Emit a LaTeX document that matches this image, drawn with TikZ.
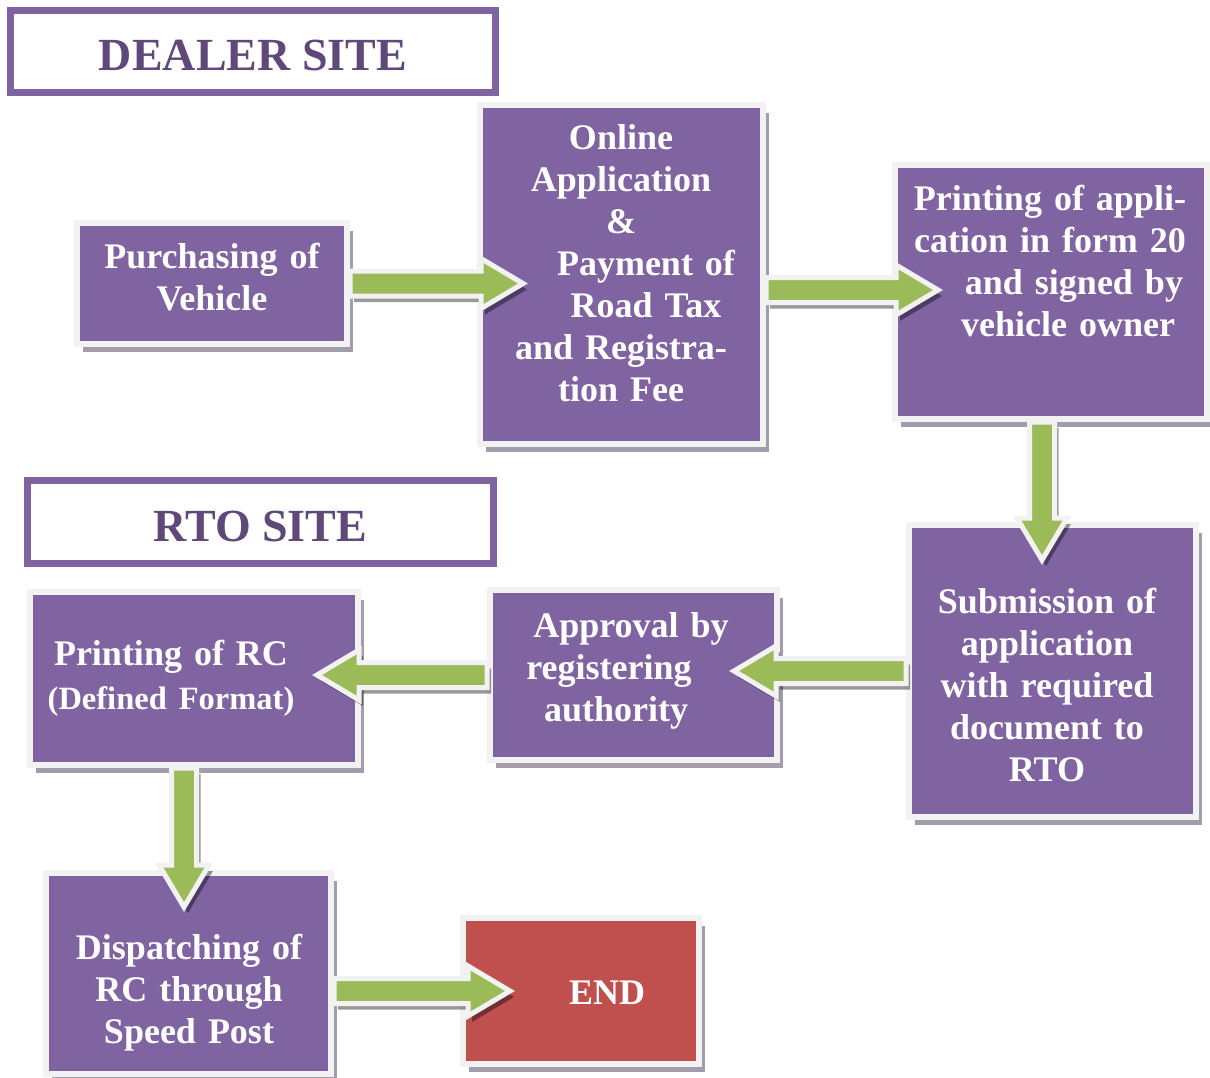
\documentclass[tikz,border=0pt]{standalone}
\usepackage{fontspec}
\setmainfont{Liberation Serif}
\usetikzlibrary{calc,shadows}
\definecolor{boxpurple}{HTML}{8064A2}
\definecolor{boxborder}{HTML}{F2F2F2}
\definecolor{agreen}{HTML}{9BBB59}
\definecolor{endred}{HTML}{C0504D}
\definecolor{hdrtext}{HTML}{5F497A}
\definecolor{hdrline}{HTML}{8064A2}
\definecolor{shadowgray}{HTML}{A29DAA}
\begin{document}
\begin{tikzpicture}[x=1pt,y=-1pt,
  box/.style={rectangle, fill=boxpurple, draw=boxborder, line width=6pt, inner sep=0pt,
    drop shadow={shadow xshift=6pt, shadow yshift=-8pt, fill=shadowgray, opacity=1}},
  hdr/.style={rectangle, draw=hdrline, line width=6pt, fill=white, inner sep=0pt,
    text=hdrtext, font=\fontsize{46}{50}\selectfont\bfseries, text height=38pt, text depth=0pt},
  hdrinner/.style={draw=hdrline, line width=2pt},
  txt/.style={text=white, font=\fontsize{36}{42}\selectfont\bfseries, align=center,
    text width=320pt, inner sep=0pt},
  fatpath/.style={to path={
    ($(\tikztostart)!12.5pt!90:(\tikztotarget)$)
    -- ($(\tikztotarget)!42pt!(\tikztostart)!12.5pt!90:(\tikztotarget)$)
    -- ($(\tikztotarget)!42pt!(\tikztostart)!25pt!90:(\tikztotarget)$)
    -- (\tikztotarget)
    -- ($(\tikztotarget)!42pt!(\tikztostart)!25pt!-90:(\tikztotarget)$)
    -- ($(\tikztotarget)!42pt!(\tikztostart)!12.5pt!-90:(\tikztotarget)$)
    -- ($(\tikztostart)!12.5pt!-90:(\tikztotarget)$)
    -- cycle}},
  fat/.style={fatpath, fill=agreen, draw=boxborder, line width=5pt, line join=miter},
  fatshadow/.style={fatpath, fill=black, fill opacity=0.4, draw=none,
    transform canvas={shift={(4,6)}}}
]
\fill[white] (0,0) rectangle (1210,1077);
\useasboundingbox (0,0) rectangle (1210,1077);

% headers
\node[hdr, minimum width=486pt, minimum height=83pt] (h1) at (253,51.5) {DEALER SITE};
\draw[hdrinner] ($(h1.north west)+(6,6)$) rectangle ($(h1.south east)+(-6,-6)$);
\node[hdr, minimum width=467pt, minimum height=84pt] (h2) at (260.5,522) {RTO SITE};
\draw[hdrinner] ($(h2.north west)+(6,6)$) rectangle ($(h2.south east)+(-6,-6)$);

% boxes
\node[box, minimum width=270pt, minimum height=121pt] (p1) at (212,283.5) {};
\node[box, minimum width=283pt, minimum height=339pt] (p2) at (621.5,274.5) {};
\node[box, minimum width=312pt, minimum height=254pt] (p3) at (1051,292) {};
\node[box, minimum width=287pt, minimum height=292pt] (p4) at (1052.5,671) {};
\node[box, minimum width=287pt, minimum height=170pt] (p5) at (633.5,675) {};
\node[box, minimum width=328pt, minimum height=173pt] (p6) at (194,678.5) {};
\node[box, minimum width=285pt, minimum height=201pt] (p7) at (188.5,973.5) {};
\node[box, fill=endred, minimum width=236pt, minimum height=146pt] (pend) at (581,991) {};

% arrow end points
\coordinate (a1s) at (p1.east);
\coordinate (a1t) at ($(p2.west |- p1.east)+(46,0)$);
\coordinate (a2s) at ($(p2.east |- p3.west)+(0,-2)$);
\coordinate (a2t) at ($(p3.west)+(46,-2)$);
\coordinate (a3s) at ($(p3.south)+(-9,0)$);
\coordinate (a3t) at ($(a3s |- p4.north)+(0,38)$);
\coordinate (a4s) at (p4.west);
\coordinate (a4t) at ($(p5.east |- p4.west)+(-46,0)$);
\coordinate (a5s) at (p5.west);
\coordinate (a5t) at ($(p6.east |- p5.west)+(-44,0)$);
\coordinate (a6s) at ($(p6.south)+(-10,0)$);
\coordinate (a6t) at ($(a6s |- p7.north)+(0,37)$);
\coordinate (a7s) at (p7.east |- pend.west);
\coordinate (a7t) at ($(pend.west)+(50,0)$);

% arrow shadows
\foreach \s/\t in {a1s/a1t,a2s/a2t,a3s/a3t,a4s/a4t,a5s/a5t,a6s/a6t,a7s/a7t}
  \path[fatshadow] (\s) to (\t);
% arrows
\draw[fat] (a1s) to (a1t);
\draw[fat] (a2s) to (a2t);
\draw[fat] (a3s) to (a3t);
\draw[fat] (a4s) to (a4t);
\draw[fat] (a5s) to (a5t);
\draw[fat] (a6s) to (a6t);
\draw[fat] (a7s) to (a7t);

% texts
\node[txt] (t1) at ($(p1.center)+(0,-6.5)$) {Purchasing of\\Vehicle};
\node[txt] (t2) at ($(p2.center)+(-0.5,-11)$) {Online\\Application\\\&\\\hspace*{50pt}Payment of\\\hspace*{50pt}Road Tax\\and Registra-\\tion Fee};
\node[txt] (t3) at ($(p3.center)+(-1,-31.5)$) {Printing of appli-\\cation in form 20\\\hspace*{48pt}and signed by\\\hspace*{36pt}vehicle owner};
\node[txt] (t4) at ($(p4.center)+(-5.5,13.5)$) {Submission of\\application\\with required\\document to\\RTO};
\node[txt] (t5) at ($(p5.center)+(-2.5,-4)$) {Approval by\\\hspace*{-44pt}registering\\\hspace*{-30pt}authority};
\node[txt, font=\fontsize{36}{44}\selectfont\bfseries] (t6) at ($(p6.center)+(-23,-0.5)$) {Printing of RC\\{\fontsize{32.5}{44}\selectfont (Defined Format)}};
\node[txt] (t7) at ($(p7.center)+(0.5,19.5)$) {Dispatching of\\RC through\\Speed Post};
\node[txt] (tend) at ($(pend.center)+(26,2)$) {END};
\end{tikzpicture}
\end{document}
